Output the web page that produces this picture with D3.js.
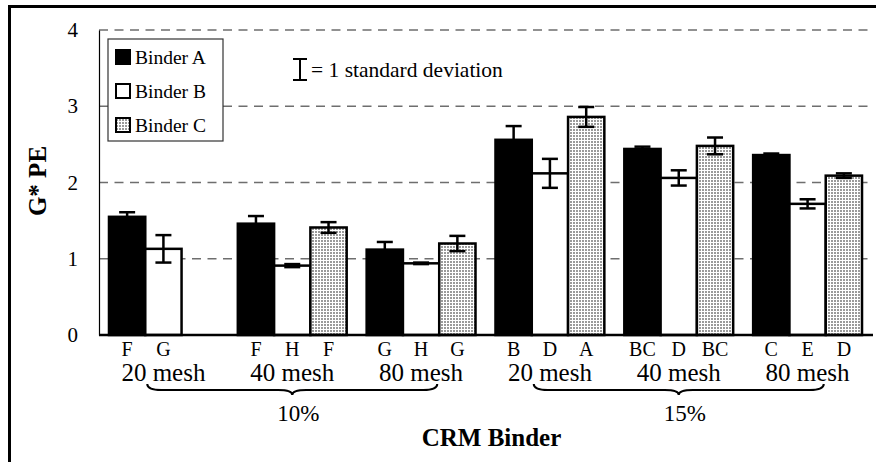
<!DOCTYPE html>
<html>
<head>
<meta charset="utf-8">
<script src="https://cdn.jsdelivr.net/npm/d3@7"></script>
<style>
  html, body { margin: 0; padding: 0; background: #fff; }
  svg { display: block; }
</style>
</head>
<body>
<svg id="chart" width="876" height="462"></svg>
<script>
// ---------- data ----------
const meshLabels = ["20 mesh", "40 mesh", "80 mesh", "20 mesh", "40 mesh", "80 mesh"];
const percentLabels = ["10%", "15%"];
const binders = ["Binder A", "Binder B", "Binder C"];
const binderA = [1.55, 1.46, 1.12, 2.56, 2.44, 2.36];
const binderB = [1.13, 0.91, 0.94, 2.12, 2.06, 1.72];
const binderC = [null, 1.41, 1.20, 2.86, 2.48, 2.09];
const sdA = [0.06, 0.10, 0.10, 0.18, 0.03, 0.02];
const sdB = [0.18, 0.02, 0.01, 0.19, 0.10, 0.06];
const sdC = [null, 0.07, 0.10, 0.13, 0.11, 0.03];
const lettersA = ["F", "F", "G", "B", "BC", "C"];
const lettersB = ["G", "H", "H", "D", "D", "E"];
const lettersC = ["", "F", "G", "A", "BC", "D"];
const yTicks = [0, 1, 2, 3, 4];

// ---------- layout ----------
const FONT = "Liberation Serif";
const svg = d3.select("#chart").attr("font-family", FONT);
const plotLeft = 99, plotRight = 872, plotTop = 30, plotBottom = 335;

const x0 = d3.scaleBand().domain(d3.range(meshLabels.length))
  .range([plotLeft, plotRight]).paddingInner(0.155).paddingOuter(0.0775);
const x1 = d3.scaleBand().domain(binders).range([0, x0.bandwidth()]).padding(0);
const y = d3.scaleLinear().domain([0, 4]).range([plotBottom, plotTop]);

// pattern for Binder C
const defs = svg.append("defs");
const pat = defs.append("pattern").attr("id", "dots")
  .attr("patternUnits", "userSpaceOnUse").attr("width", 3).attr("height", 3);
pat.append("rect").attr("width", 3).attr("height", 3).attr("fill", "#fff");
pat.append("rect").attr("width", 2).attr("height", 2).attr("fill", "#9a9a9a");

const fills = { "Binder A": "#000", "Binder B": "#fff", "Binder C": "url(#dots)" };

// outer frame (top & left)
svg.append("line").attr("x1", 8).attr("x2", 876).attr("y1", 6.5).attr("y2", 6.5)
  .attr("stroke", "#000").attr("stroke-width", 3);
svg.append("line").attr("x1", 9.5).attr("x2", 9.5).attr("y1", 5).attr("y2", 462)
  .attr("stroke", "#000").attr("stroke-width", 3);

// gridlines
svg.append("g").selectAll("line").data(yTicks.filter(d => d > 0)).join("line")
  .attr("x1", plotLeft).attr("x2", plotRight)
  .attr("y1", d => y(d)).attr("y2", d => y(d))
  .attr("stroke", "#6e6e6e").attr("stroke-width", 1.3).attr("stroke-dasharray", "9,6.5");

// y axis
const yAxis = svg.append("g").attr("transform", `translate(${plotLeft},0)`)
  .call(d3.axisLeft(y).tickValues(yTicks).tickSize(0).tickPadding(21).tickFormat(d3.format("d")));
yAxis.attr("font-family", FONT).attr("font-size", 21);
yAxis.select(".domain").attr("stroke", "#000").attr("stroke-width", 1.2);
yAxis.selectAll("text").attr("font-family", FONT).attr("font-size", 21).attr("fill", "#000");

// y title
svg.append("text").attr("transform", "translate(46,181) rotate(-90)")
  .attr("font-family", FONT)
  .attr("text-anchor", "middle").attr("font-weight", "bold").attr("font-size", 25)
  .text("G* PE");

// bars
const rows = d3.range(meshLabels.length).flatMap(i => [
  { g: i, b: "Binder A", v: binderA[i], sd: sdA[i], l: lettersA[i] },
  { g: i, b: "Binder B", v: binderB[i], sd: sdB[i], l: lettersB[i] },
  { g: i, b: "Binder C", v: binderC[i], sd: sdC[i], l: lettersC[i] }
]);
const present = rows.filter(r => r.v != null);

svg.append("g").selectAll("rect").data(present).join("rect")
  .attr("x", d => x0(d.g) + x1(d.b))
  .attr("width", x1.bandwidth())
  .attr("y", d => y(d.v))
  .attr("height", d => y(0) - y(d.v))
  .attr("fill", d => fills[d.b])
  .attr("stroke", "#000").attr("stroke-width", 2.5);

// error bars
const eb = svg.append("g").attr("stroke", "#000").attr("stroke-width", 2.5);
const cx = d => x0(d.g) + x1(d.b) + x1.bandwidth() / 2;
const capW = 8;
eb.selectAll(".v").data(present).join("line")
  .attr("x1", cx).attr("x2", cx)
  .attr("y1", d => y(d.v + d.sd)).attr("y2", d => y(d.v - d.sd));
eb.selectAll(".t").data(present).join("line")
  .attr("x1", d => cx(d) - capW).attr("x2", d => cx(d) + capW)
  .attr("y1", d => y(d.v + d.sd)).attr("y2", d => y(d.v + d.sd));
eb.selectAll(".b").data(present.filter(d => d.b !== "Binder A")).join("line")
  .attr("x1", d => cx(d) - capW).attr("x2", d => cx(d) + capW)
  .attr("y1", d => y(d.v - d.sd)).attr("y2", d => y(d.v - d.sd));

// x axis line
svg.append("line").attr("x1", plotLeft).attr("x2", plotRight + 1)
  .attr("y1", y(0)).attr("y2", y(0)).attr("stroke", "#000").attr("stroke-width", 2.5);

// letters
svg.append("g").selectAll("text").data(rows.filter(r => r.l)).join("text")
  .attr("font-family", FONT)
  .attr("x", cx).attr("y", 356).attr("text-anchor", "middle")
  .attr("font-size", 20).text(d => d.l);

// mesh labels
svg.append("g").selectAll("text").data(meshLabels).join("text")
  .attr("font-family", FONT)
  .attr("x", (d, i) => x0(i) + x0.bandwidth() / 2).attr("y", 381)
  .attr("text-anchor", "middle").attr("font-size", 25).text(d => d);

// braces
function brace(xa, xb, yTop, h) {
  const xc = (xa + xb) / 2, ym = yTop + h * 0.55, yt = yTop + h, r = 14;
  return `M${xa},${yTop} Q${xa},${ym} ${xa + r},${ym} L${xc - r},${ym} Q${xc},${ym} ${xc},${yt}` +
         ` Q${xc},${ym} ${xc + r},${ym} L${xb - r},${ym} Q${xb},${ym} ${xb},${yTop}`;
}
percentLabels.forEach((p, k) => {
  const mid = k * 3 + 1;
  const c = x0(mid) + x0.bandwidth() / 2;
  svg.append("path").attr("d", brace(c - 145, c + 145, 384, 11))
    .attr("fill", "none").attr("stroke", "#000").attr("stroke-width", 2);
  svg.append("text").attr("font-family", FONT)
    .attr("x", c + 6).attr("y", 421).attr("text-anchor", "middle")
    .attr("font-size", 23).text(p);
});

// x title
svg.append("text").attr("font-family", FONT)
  .attr("x", (plotLeft + plotRight) / 2 + 6).attr("y", 446)
  .attr("text-anchor", "middle").attr("font-weight", "bold").attr("font-size", 25)
  .text("CRM Binder");

// legend
const lg = svg.append("g");
lg.append("rect").attr("x", 108).attr("y", 39).attr("width", 115).attr("height", 102)
  .attr("fill", "#fff").attr("stroke", "#333").attr("stroke-width", 1.2);
const li = lg.selectAll("g").data(binders).join("g")
  .attr("transform", (d, i) => `translate(116,${57 + i * 34})`);
li.append("rect").attr("x", 0).attr("y", -7).attr("width", 14).attr("height", 14)
  .attr("fill", d => fills[d]).attr("stroke", "#000").attr("stroke-width", 2);
li.append("text").attr("font-family", FONT)
  .attr("x", 19).attr("y", 7).attr("font-size", 19.5).text(d => d);

// std dev key
const sk = svg.append("g").attr("stroke", "#000").attr("stroke-width", 2);
sk.append("line").attr("x1", 300).attr("x2", 300).attr("y1", 59).attr("y2", 80);
sk.append("line").attr("x1", 293).attr("x2", 307).attr("y1", 59).attr("y2", 59);
sk.append("line").attr("x1", 293).attr("x2", 307).attr("y1", 80).attr("y2", 80);
svg.append("text").attr("font-family", FONT)
  .attr("x", 311).attr("y", 77).attr("font-size", 21.5).text("= 1 standard deviation");
</script>
</body>
</html>
